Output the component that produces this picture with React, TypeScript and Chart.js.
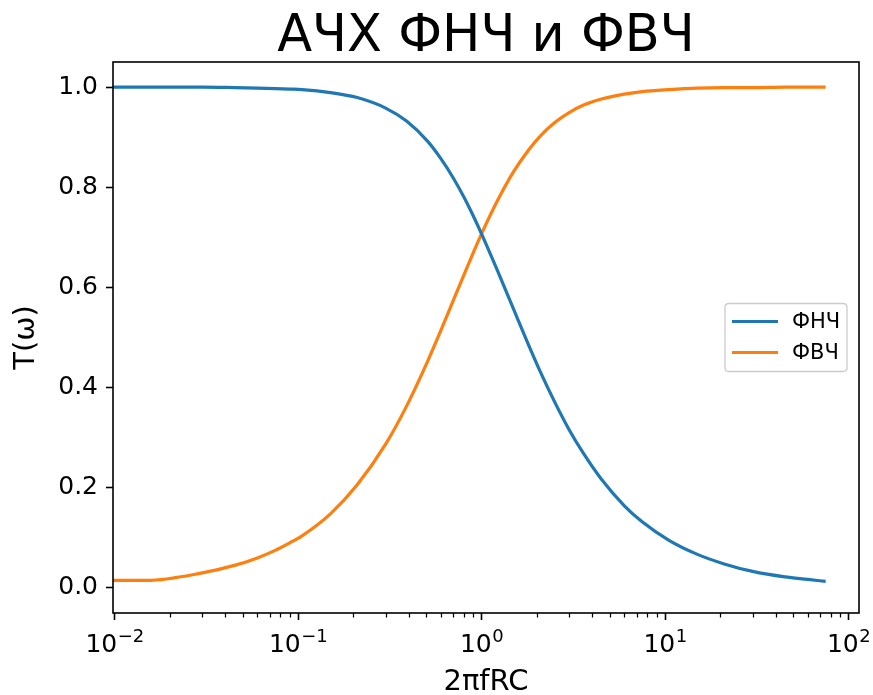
import React, { useEffect, useRef } from 'react';
import { Chart, registerables } from 'chart.js';

Chart.register(...registerables);

const TITLE = 'АЧХ ФНЧ и ФВЧ';
const X_LABEL = '2πfRC';
const Y_LABEL = 'T(ω)';
const SERIES_NAMES = ['ФНЧ', 'ФВЧ'];
const SERIES_COLORS = ['#1f77b4', '#ff7f0e'];
const FONT = '"DejaVu Sans", "Liberation Sans", sans-serif';

const omega = [
  0.009, 0.015, 0.03, 0.045, 0.06, 0.075, 0.09, 0.105, 0.15, 0.21, 0.3, 0.39,
  0.51, 0.6, 0.705, 0.81, 0.9, 1.005, 1.2, 1.5, 1.8, 2.1, 2.505, 3, 3.6, 4.5,
  6, 7.5, 10.5, 15, 21, 30, 45, 60, 75,
];
// low-pass (ФНЧ) readings
const lowPass = [
  1.0, 1.0, 1.0, 0.999, 0.998, 0.997, 0.996, 0.995, 0.989, 0.979, 0.958, 0.932,
  0.891, 0.857, 0.817, 0.777, 0.743, 0.705, 0.64, 0.555, 0.486, 0.43, 0.371, 0.316, 0.268, 0.217,
  0.164, 0.132, 0.095, 0.067, 0.048, 0.033, 0.022, 0.017, 0.013,
];
// high-pass (ФВЧ) readings
const highPass = [
  0.015, 0.015, 0.03, 0.045, 0.06, 0.075, 0.09, 0.104, 0.148, 0.206, 0.287, 0.363,
  0.454, 0.514, 0.576, 0.629, 0.669, 0.709, 0.768, 0.832, 0.874, 0.903, 0.929, 0.949, 0.964, 0.976,
  0.986, 0.991, 0.995, 0.998, 0.999, 0.999, 1.0, 1.0, 1.0,
];

const xMajorTicks = [0.01, 0.1, 1, 10, 100];
const xTickBase = '10';
const xTickExponents = ['−2', '−1', '0', '1', '2'];
const xMinorTicks = [
  0.02, 0.03, 0.04, 0.05, 0.06, 0.07, 0.08, 0.09,
  0.2, 0.3, 0.4, 0.5, 0.6, 0.7, 0.8, 0.9,
  2, 3, 4, 5, 6, 7, 8, 9,
  20, 30, 40, 50, 60, 70, 80, 90,
];
const yTicks = [0, 0.2, 0.4, 0.6, 0.8, 1.0];
const yTickLabels = ['0.0', '0.2', '0.4', '0.6', '0.8', '1.0'];

const X_MIN = 0.0098;
const X_MAX = 114;
const Y_MIN = -0.05;
const Y_MAX = 1.05;

const decorPlugin = {
  id: 'decor',
  afterDatasetsDraw(chart: any) {
    const { ctx, chartArea: a, scales } = chart;
    ctx.save();
    // minor x ticks
    ctx.strokeStyle = '#000';
    ctx.lineWidth = 1.25;
    ctx.beginPath();
    for (const v of xMinorTicks) {
      const px = Math.round(scales.x.getPixelForValue(v)) + 0.5;
      ctx.moveTo(px, a.bottom);
      ctx.lineTo(px, a.bottom + 4.5);
    }
    ctx.stroke();
    // x major tick labels: 10 with superscript exponent
    ctx.fillStyle = '#000';
    ctx.textAlign = 'left';
    ctx.textBaseline = 'alphabetic';
    xMajorTicks.forEach((v, i) => {
      const px = scales.x.getPixelForValue(v);
      ctx.font = `25px ${FONT}`;
      const wb = ctx.measureText(xTickBase).width;
      ctx.font = `18px ${FONT}`;
      const we = ctx.measureText(xTickExponents[i]).width;
      const x0 = px - (wb + we) / 2;
      ctx.font = `25px ${FONT}`;
      ctx.fillText(xTickBase, x0, a.bottom + 39);
      ctx.font = `18px ${FONT}`;
      ctx.fillText(xTickExponents[i], x0 + wb + 0.5, a.bottom + 29);
    });
    // frame
    ctx.lineWidth = 1.6;
    ctx.strokeRect(a.left, a.top, a.right - a.left, a.bottom - a.top);
    // title
    ctx.fillStyle = '#000';
    ctx.font = `51px ${FONT}`;
    ctx.textAlign = 'center';
    ctx.textBaseline = 'alphabetic';
    ctx.fillText(TITLE, (a.left + a.right) / 2, a.top - 11);
    // legend (center right)
    const w = 122, h = 68;
    const lx = a.right - 12 - w;
    const ly = (a.top + a.bottom) / 2 - h / 2;
    ctx.beginPath();
    const r = 4;
    ctx.moveTo(lx + r, ly);
    ctx.lineTo(lx + w - r, ly);
    ctx.quadraticCurveTo(lx + w, ly, lx + w, ly + r);
    ctx.lineTo(lx + w, ly + h - r);
    ctx.quadraticCurveTo(lx + w, ly + h, lx + w - r, ly + h);
    ctx.lineTo(lx + r, ly + h);
    ctx.quadraticCurveTo(lx, ly + h, lx, ly + h - r);
    ctx.lineTo(lx, ly + r);
    ctx.quadraticCurveTo(lx, ly, lx + r, ly);
    ctx.closePath();
    ctx.fillStyle = 'rgba(255,255,255,0.8)';
    ctx.fill();
    ctx.strokeStyle = '#cccccc';
    ctx.lineWidth = 1.3;
    ctx.stroke();
    ctx.font = `21px ${FONT}`;
    ctx.textAlign = 'left';
    ctx.textBaseline = 'middle';
    chart.data.datasets.forEach((ds: any, i: number) => {
      const yy = ly + 18 + i * 31;
      ctx.strokeStyle = ds.borderColor;
      ctx.lineWidth = 3.1;
      ctx.beginPath();
      ctx.moveTo(lx + 7, yy);
      ctx.lineTo(lx + 53, yy);
      ctx.stroke();
      ctx.fillStyle = '#000';
      ctx.fillText(ds.label, lx + 67, yy + 1);
    });
    ctx.restore();
  },
};

export default function App() {
  const ref = useRef<HTMLCanvasElement>(null);
  useEffect(() => {
    if (!ref.current) return;
    const series = [lowPass, highPass];
    const chart = new Chart(ref.current, {
      type: 'line',
      data: {
        datasets: series.map((vals, i) => ({
          label: SERIES_NAMES[i],
          data: omega.map((x, j) => ({ x, y: vals[j] })),
          borderColor: SERIES_COLORS[i],
          backgroundColor: SERIES_COLORS[i],
          borderWidth: 3.2,
          pointRadius: 0,
          fill: false,
          cubicInterpolationMode: 'monotone',
        })),
      },
      options: {
        responsive: false,
        animation: false,
        layout: { padding: { top: 62, right: 14, left: 0, bottom: 0 } },
        plugins: { legend: { display: false }, title: { display: false }, tooltip: { enabled: false } },
        scales: {
          x: {
            type: 'logarithmic',
            min: X_MIN,
            max: X_MAX,
            afterBuildTicks: (s: any) => {
              s.ticks = xMajorTicks.map((v) => ({ value: v, major: true }));
            },
            afterFit: (s: any) => {
              s.height = 82;
              s.paddingLeft = 0;
              s.paddingRight = 0;
            },
            grid: { display: true, drawOnChartArea: false, drawTicks: true, tickLength: 7, tickColor: '#000', tickWidth: 1.6 },
            border: { display: false },
            ticks: { display: false },
            title: {
              display: true,
              text: X_LABEL,
              color: '#000',
              font: { family: FONT, size: 29, lineHeight: 1 },
              padding: { top: 0, bottom: -2 },
            },
          },
          y: {
            type: 'linear',
            min: Y_MIN,
            max: Y_MAX,
            afterBuildTicks: (s: any) => {
              s.ticks = yTicks.map((v) => ({ value: v }));
            },
            afterFit: (s: any) => {
              s.width = 113;
              s.paddingTop = 0;
              s.paddingBottom = 0;
            },
            grid: { display: true, drawOnChartArea: false, drawTicks: true, tickLength: 7, tickColor: '#000', tickWidth: 1.6 },
            border: { display: false },
            ticks: {
              color: '#000',
              font: { family: FONT, size: 25 },
              padding: 8,
              autoSkip: false,
              callback: (_v: any, i: number) => yTickLabels[i],
            },
            title: {
              display: true,
              text: Y_LABEL,
              color: '#000',
              font: { family: FONT, size: 29 },
              padding: { top: 9, bottom: 0 },
            },
          },
        },
      },
      plugins: [decorPlugin],
    } as any);
    return () => chart.destroy();
  }, []);
  return (
    <div style={{ position: 'absolute', left: 0, top: 0, width: 873, height: 695, background: '#fff' }}>
      <canvas ref={ref} width={873} height={695} style={{ display: 'block' }} />
    </div>
  );
}
